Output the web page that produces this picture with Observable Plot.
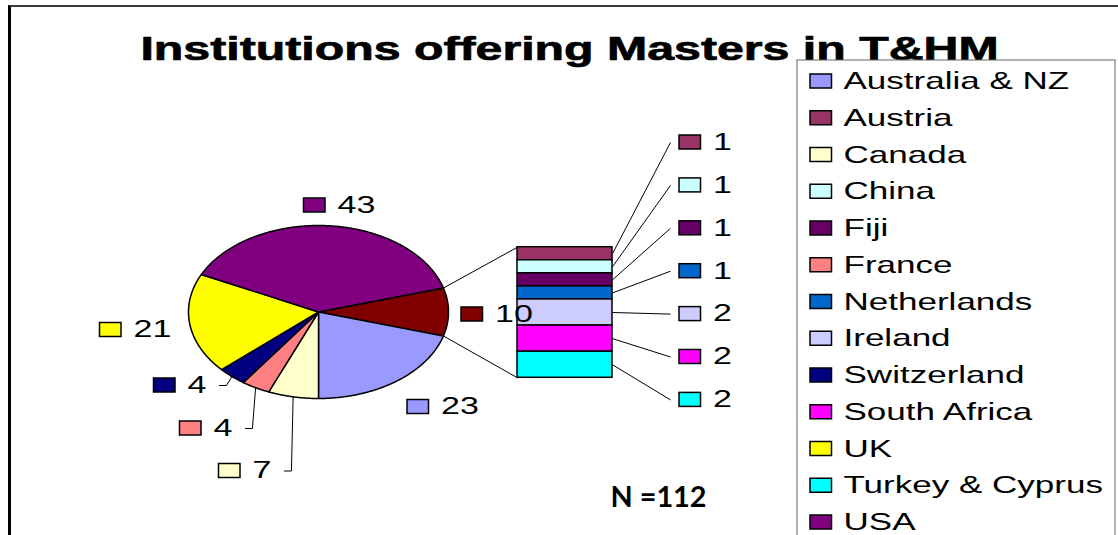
<!DOCTYPE html>
<html><head><meta charset="utf-8">
<script src="https://cdn.jsdelivr.net/npm/d3@7"></script>
<script src="https://cdn.jsdelivr.net/npm/@observablehq/plot@0.6"></script>
<style>
html,body{margin:0;padding:0;background:#fff;}
#chart{position:relative;width:1118px;height:535px;overflow:hidden;}
#chart svg{position:absolute;left:0;top:0;}
#frame{position:absolute;left:8px;top:5px;right:-10px;bottom:-10px;border-top:2px solid #3a3a3a;border-left:3px solid #000;pointer-events:none;}
</style></head><body>
<div id="chart"><div id="frame"></div></div>
<script>
// ---------------- data ----------------
const title = "Institutions offering Masters in T&HM";
const countries = ["Australia & NZ","Austria","Canada","China","Fiji","France","Netherlands","Ireland","Switzerland","South Africa","UK","Turkey & Cyprus","USA"];
const values = [23,1,7,1,1,4,1,2,4,2,21,2,43];
const colors = ["#9999FF","#993366","#FFFFCC","#CCFFFF","#660066","#FF8080","#0066CC","#CCCCFF","#000080","#FF00FF","#FFFF00","#00FFFF","#800080"];
const otherName = "Other";
const otherColor = "#800000";
const splitBelow = 3; // countries with fewer institutions go to the secondary bar
const nPrefix = "N =";

// ---------------- layout ----------------
const W = 1118, H = 535;
const pie = {cx: 318, cy: 311.5, rx: 130, ry: 86.5};
const bar = {x1: 517, x2: 612, top: 246.7, height: 130.6};
const pieLabelPos = {"Other": [461, 314], "Australia & NZ": [407, 406.5], "Canada": [218.5, 470.5], "France": [179.5, 428], "Switzerland": [153.5, 385], "UK": [99.5, 329.5], "USA": [303.5, 205]};
const leaderSlices = ["Canada", "France", "Switzerland"];
const barLabel = {x: 679, y0: 142, step: 42.9};
const sq = {w: 21.5, h: 14};
const legend = {x1: 797, y1: 60, x2: 1115, y2: 560, sx: 810, tx: 843, y0: 81, step: 36.75};
const labelFont = 23, labelSx = 1.48, digitW = 0.556 * labelFont * labelSx;

// ---------------- derived ----------------
const rows = countries.map((name, i) => ({name, value: values[i], color: colors[i]}));
const barRows = rows.filter(d => d.value < splitBelow);
const otherTotal = d3.sum(barRows, d => d.value);
const pieRows = [{name: otherName, value: otherTotal, color: otherColor}, ...rows.filter(d => d.value >= splitBelow)];
const total = d3.sum(values);

let ang = -otherTotal / total * Math.PI;
for (const d of pieRows) { d.a0 = ang; ang += d.value / total * 2 * Math.PI; d.a1 = ang; d.mid = (d.a0 + d.a1) / 2; }
const ex = t => pie.cx + pie.rx * Math.cos(t);
const ey = t => pie.cy + pie.ry * Math.sin(t);

const slicePts = pieRows.flatMap(d => {
  const n = Math.max(2, Math.ceil((d.a1 - d.a0) / (Math.PI / 360)));
  const pts = [{k: d.name, x: pie.cx, y: pie.cy, color: d.color}];
  for (let j = 0; j <= n; j++) { const t = d.a0 + (d.a1 - d.a0) * j / n; pts.push({k: d.name, x: ex(t), y: ey(t), color: d.color}); }
  pts.push({k: d.name, x: pie.cx, y: pie.cy, color: d.color});
  return pts;
});

const unit = bar.height / otherTotal;
let yy = bar.top;
barRows.forEach((d, i) => { d.y1 = yy; yy += d.value * unit; d.y2 = yy; d.ym = (d.y1 + d.y2) / 2; d.lx = barLabel.x; d.ly = barLabel.y0 + i * barLabel.step; });

const other = pieRows[0];
const connectors = [
  {x1: ex(other.a0), y1: ey(other.a0), x2: bar.x1, y2: bar.top},
  {x1: ex(other.a1), y1: ey(other.a1), x2: bar.x1, y2: bar.top + bar.height}
];

pieRows.forEach(d => { const p = pieLabelPos[d.name]; d.lx = p[0]; d.ly = p[1]; });
const labels = [...pieRows, ...barRows].map(d => ({color: d.color, value: d.value, lx: d.lx, ly: d.ly}));

const leaderPts = pieRows.filter(d => leaderSlices.includes(d.name)).flatMap(d => {
  const end = d.lx + sq.w + 12 + String(d.value).length * digitW;
  return [{k: d.name, x: end + 13, y: d.ly}, {k: d.name, x: end + 20, y: d.ly}, {k: d.name, x: ex(d.mid), y: ey(d.mid)}];
});

const legendRows = rows.map((d, i) => ({...d, y: legend.y0 + i * legend.step}));

const font = "'Liberation Sans', Arial, Helvetica, sans-serif";

const plot = Plot.plot({
  width: W, height: H, margin: 0,
  x: {domain: [0, W], range: [0, W], axis: null},
  y: {domain: [0, H], range: [0, H], axis: null},
  color: {type: "identity"},
  style: {fontFamily: font, background: "transparent", overflow: "visible"},
  marks: [
    Plot.text([title], {x: () => 569, y: () => 48.5, text: d => d, fontSize: 34, fontWeight: "bold", fill: "#000", stroke: "#000", strokeWidth: 0.7, textAnchor: "middle", lineAnchor: "middle", ariaDescription: "sx=1.42"}),
    Plot.line(slicePts, {x: "x", y: "y", z: "k", fill: "color", stroke: "#000", strokeWidth: 1.5, strokeLinejoin: "round", curve: "linear"}),
    Plot.link(connectors, {x1: "x1", y1: "y1", x2: "x2", y2: "y2", stroke: "#000", strokeWidth: 1}),
    Plot.rect(barRows, {x1: () => bar.x1, x2: () => bar.x2, y1: "y1", y2: "y2", fill: "color", stroke: "#000", strokeWidth: 1.5}),
    Plot.link(barRows, {x1: () => bar.x2, y1: "ym", x2: d => d.lx - 9, y2: "ly", stroke: "#000", strokeWidth: 1}),
    Plot.line(leaderPts, {x: "x", y: "y", z: "k", stroke: "#000", strokeWidth: 1}),
    Plot.rect(labels, {x1: "lx", x2: d => d.lx + sq.w, y1: d => d.ly - sq.h / 2, y2: d => d.ly + sq.h / 2, fill: "color", stroke: "#000", strokeWidth: 1.5}),
    Plot.text(labels, {x: d => d.lx + sq.w + 12, y: "ly", text: d => String(d.value), fontSize: labelFont, fill: "#000", textAnchor: "start", lineAnchor: "middle", ariaDescription: "sx=" + labelSx}),
    Plot.rect([legend], {x1: "x1", x2: "x2", y1: "y1", y2: "y2", fill: "#fff", stroke: "#666", strokeWidth: 1}),
    Plot.rect(legendRows, {x1: () => legend.sx, x2: () => legend.sx + sq.w, y1: d => d.y - sq.h / 2, y2: d => d.y + sq.h / 2, fill: "color", stroke: "#000", strokeWidth: 1.5}),
    Plot.text(legendRows, {x: () => legend.tx, y: "y", text: "name", fontSize: 24, fill: "#000", textAnchor: "start", lineAnchor: "middle", ariaDescription: "sx=1.46"}),
    Plot.text([nPrefix + total], {x: () => 658, y: () => 498, text: d => d, fontSize: 28, fontWeight: "bold", fontFamily: "Lato, 'Open Sans', sans-serif", fill: "#000", textAnchor: "middle", lineAnchor: "middle", ariaDescription: "sx=1.03"})
  ]
});

plot.querySelectorAll("g[aria-description^='sx=']").forEach(g => {
  const s = +g.getAttribute("aria-description").slice(3);
  g.querySelectorAll("text").forEach(t => {
    let tr = t.getAttribute("transform");
    if (!tr) {
      const x = +t.getAttribute("x") || 0, y = +t.getAttribute("y") || 0;
      t.removeAttribute("x"); t.removeAttribute("y");
      tr = `translate(${x},${y})`;
    }
    t.setAttribute("transform", tr + ` scale(${s},1)`);
  });
});

document.getElementById("chart").insertBefore(plot, document.getElementById("frame"));
</script>
</body></html>
